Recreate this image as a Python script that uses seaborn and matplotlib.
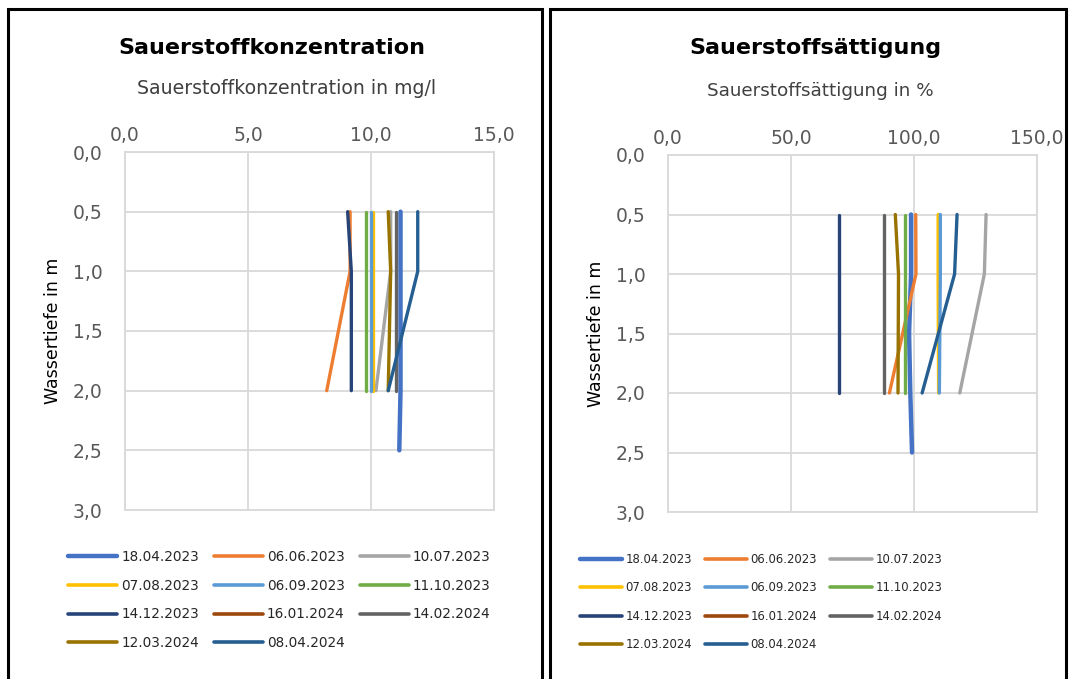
import numpy as np
import matplotlib
matplotlib.use("Agg")
import matplotlib.pyplot as plt
from matplotlib.lines import Line2D
from matplotlib.patches import Rectangle
import seaborn as sns

# ==========================================================
# DATA
# ==========================================================

dates = ["18.04.2023", "06.06.2023", "10.07.2023", "07.08.2023",
         "06.09.2023", "11.10.2023", "14.12.2023", "16.01.2024",
         "14.02.2024", "12.03.2024", "08.04.2024"]

colors = ["#4472C4", "#ED7D31", "#A5A5A5", "#FFC000", "#5B9BD5", "#70AD47",
          "#264478", "#9E480E", "#636363", "#997300", "#255E91"]

# depth (m) of each measurement, per date
depths = [[0.5, 1.0, 1.5, 2.0, 2.5],
          [0.5, 1.0, 2.0],
          [0.5, 1.0, 2.0],
          [0.5, 1.0, 2.0],
          [0.5, 1.0, 2.0],
          [0.5, 1.0, 2.0],
          [0.5, 1.0, 2.0],
          [],
          [0.5, 1.0, 2.0],
          [0.5, 1.0, 2.0],
          [0.5, 1.0, 2.0]]

# oxygen concentration in mg/l
konz = [[11.2, 11.2, 11.2, 11.2, 11.15],
        [9.15, 9.15, 8.2],
        [10.8, 10.8, 10.2],
        [10.1, 10.1, 10.1],
        [10.0, 10.0, 10.0],
        [9.8, 9.8, 9.8],
        [9.05, 9.2, 9.2],
        [],
        [11.0, 11.0, 11.0],
        [10.7, 10.8, 10.7],
        [11.9, 11.9, 10.7]]

# oxygen saturation in %
saett = [[98.8, 98.8, 98.0, 98.5, 99.2],
         [100.7, 100.8, 90.0],
         [129.3, 128.6, 118.6],
         [109.8, 109.8, 110.0],
         [110.7, 110.7, 110.3],
         [96.5, 96.5, 96.5],
         [69.6, 69.6, 69.6],
         [],
         [88.0, 88.0, 88.0],
         [92.4, 93.7, 93.5],
         [117.5, 116.5, 103.3]]

# ==========================================================
# FIGURE
# ==========================================================

sns.set_style("white")
plt.rcParams["font.family"] = ["DejaVu Sans"]

W, H = 1073, 679
fig = plt.figure(figsize=(W / 100, H / 100), dpi=100)

def fx(px):
    return px / W

def fy(py):
    return 1 - py / H

# panel borders
for x0, x1 in [(8, 542), (550, 1066)]:
    fig.add_artist(Rectangle((fx(x0), -0.05), fx(x1 - x0), fy(9) + 0.05,
                             transform=fig.transFigure, fill=False,
                             edgecolor="black", lw=2.2))

grid_c = "#D9D9D9"
tick_c = "#595959"

def draw_panel(ax, values, xmax, xstep, xlabel, xlabel_fs, xlabel_pos,
               title, title_x, leg_anchor, leg_fs, leg_space):
    for i in range(len(dates)):
        if len(values[i]) == 0:
            continue
        sns.lineplot(x=values[i], y=depths[i], sort=False, estimator=None,
                     color=colors[i], lw=3.2 if i == 0 else 2.4, ax=ax,
                     legend=False)
    ax.set_xlim(0, xmax)
    ax.set_ylim(3.0, 0.0)
    ax.set_xticks(np.arange(0, xmax + 0.01, xstep))
    ax.set_yticks(np.arange(0, 3.01, 0.5))
    ax.xaxis.tick_top()
    ax.set_xticklabels([f"{v:.1f}".replace(".", ",") for v in ax.get_xticks()])
    ax.set_yticklabels([f"{v:.1f}".replace(".", ",") for v in ax.get_yticks()])
    ax.tick_params(length=0, labelsize=13.5, labelcolor=tick_c)
    ax.tick_params(axis="x", pad=5)
    ax.tick_params(axis="y", pad=16)
    ax.grid(True, color=grid_c, lw=1.3)
    ax.set_axisbelow(True)
    for s in ax.spines.values():
        s.set_color(grid_c)
        s.set_linewidth(1.3)
    ax.xaxis.set_label_position("top")
    ax.set_xlabel(xlabel, fontsize=xlabel_fs, color="#404040")
    ax.xaxis.set_label_coords(*xlabel_pos, transform=fig.transFigure)
    ax.set_ylabel("Wassertiefe in m", fontsize=12.5, color="black",
                  labelpad=8)
    fig.text(title_x, fy(48), title, ha="center", va="center",
             fontsize=16, fontweight="bold", color="black")

    handles = [Line2D([], [], color=colors[i], lw=3.2 if i == 0 else 2.6,
                      solid_capstyle="round") for i in range(len(dates))]
    order = [0, 3, 6, 9, 1, 4, 7, 10, 2, 5, 8]
    ax.legend([handles[i] for i in order], [dates[i] for i in order],
              ncol=3, loc="upper left", bbox_to_anchor=leg_anchor,
              bbox_transform=fig.transFigure, frameon=False,
              fontsize=leg_fs, handlelength=3.6, handletextpad=0.3,
              columnspacing=1.1, labelspacing=leg_space, borderpad=0,
              borderaxespad=0)

ax1 = fig.add_axes([fx(125), fy(510), fx(494 - 125), fy(152) - fy(510)])
ax2 = fig.add_axes([fx(668), fy(512), fx(1037 - 668), fy(155) - fy(512)])

draw_panel(ax1, konz, 15, 5, "Sauerstoffkonzentration in mg/l", 13.6,
           (fx(287), fy(94)), "Sauerstoffkonzentration", fx(272),
           (fx(68), fy(550)), 9.8, 1.08)
draw_panel(ax2, saett, 150, 50, "Sauerstoffsättigung in %", 13.2,
           (fx(820), fy(96)), "Sauerstoffsättigung", fx(815),
           (fx(580), fy(553)), 8.4, 1.32)

fig.savefig("out.png", dpi=100)
